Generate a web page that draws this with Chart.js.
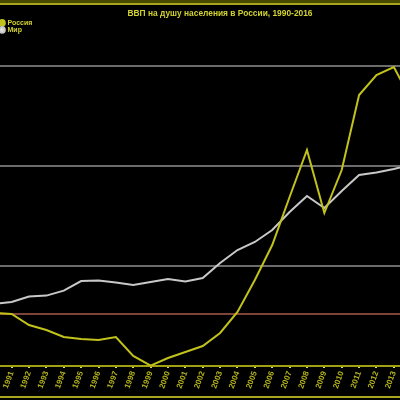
<!DOCTYPE html>
<html>
<head>
<meta charset="utf-8">
<script src="https://cdn.jsdelivr.net/npm/chart.js@4/dist/chart.umd.min.js"></script>
<style>
    body { margin: 0; background: #000; }
    #wrap { width: 400px; height: 400px; }
</style>
</head>
<body>
<div id="wrap"><canvas id="gdpChart" width="400" height="400"></canvas></div>
<script>
const years = [1990, 1991, 1992, 1993, 1994, 1995, 1996, 1997, 1998, 1999,
               2000, 2001, 2002, 2003, 2004, 2005, 2006, 2007, 2008, 2009,
               2010, 2011, 2012, 2013, 2014, 2015, 2016];
const russia = [2650, 2600, 2050, 1800, 1450, 1350, 1300, 1450, 500, 20,
                400, 700, 1000, 1650, 2700, 4300, 6050, 8450, 10800, 7650,
                9800, 13550, 14550, 14950, 13300, 8150, 7550];
const world = [3100, 3200, 3470, 3520, 3770, 4250, 4270, 4170, 4050, 4200,
               4350, 4220, 4400, 5150, 5800, 6200, 6800, 7700, 8500, 7900,
               8750, 9550, 9680, 9850, 10050, 9300, 9400];
const russia1990Level = 2600;
const gridValues = [5000, 10000, 15000];
const seriesNames = ['Россия', 'Мир'];
const titleText = 'ВВП на душу населения в России, 1990-2016';

const yellow = '#c2c21c';
const titleYellow = '#d2d232';

function toPoints(values) {
    return years.map((y, i) => ({ x: y, y: values[i] }));
}

// black background, olive frame bands and the title
const framePlugin = {
    id: 'frame',
    beforeDraw(chart) {
        const ctx = chart.ctx;
        ctx.save();
        ctx.fillStyle = '#000';
        ctx.fillRect(0, 0, chart.width, chart.height);
        ctx.fillStyle = '#4a4a00';
        ctx.fillRect(0, 0, chart.width, 3);
        ctx.fillStyle = '#a6a620';
        ctx.fillRect(0, 3, chart.width, 2);
        ctx.fillRect(0, 396, chart.width, 2);
        ctx.restore();
    },
    afterDraw(chart) {
        const ctx = chart.ctx;
        ctx.save();
        ctx.fillStyle = titleYellow;
        ctx.font = 'bold 8.4px "Liberation Sans", Arial, sans-serif';
        ctx.textAlign = 'center';
        ctx.textBaseline = 'middle';
        ctx.fillText(titleText, 220, 14);
        ctx.restore();
    }
};

const ctx = document.getElementById('gdpChart').getContext('2d');
new Chart(ctx, {
    type: 'line',
    data: {
        datasets: [
            {
                label: seriesNames[0],
                data: toPoints(russia),
                borderColor: yellow,
                backgroundColor: yellow,
                borderWidth: 2,
                pointRadius: 0,
                tension: 0
            },
            {
                label: seriesNames[1],
                data: toPoints(world),
                borderColor: '#c8c8c8',
                backgroundColor: '#e0e0e0',
                borderWidth: 2,
                pointRadius: 0,
                tension: 0
            },
            {
                label: 'level1990',
                data: [{ x: years[0], y: russia1990Level }, { x: years[years.length - 1], y: russia1990Level }],
                borderColor: '#7e4438',
                borderWidth: 2,
                pointRadius: 0
            }
        ]
    },
    options: {
        responsive: false,
        animation: false,
        layout: { padding: { top: 20, left: 0, right: 0, bottom: 0 } },
        plugins: {
            title: { display: false },
            tooltip: { enabled: false },
            legend: {
                position: 'chartArea',
                align: 'start',
                // empty legend title only pushes the items below the chart title
                title: { display: true, text: ' ', font: { size: 2 }, padding: { top: 17, bottom: 0 } },
                labels: {
                    filter: item => item.datasetIndex < 2,
                    usePointStyle: true,
                    pointStyle: 'circle',
                    boxWidth: 4,
                    boxHeight: 4,
                    padding: 0,
                    color: titleYellow,
                    font: { family: '"Liberation Sans", Arial, sans-serif', size: 7, weight: 'bold' }
                }
            }
        },
        scales: {
            x: {
                type: 'linear',
                min: 1990.33,
                max: 2013.355,
                afterFit(scale) {
                    scale.height = 34;
                    scale.paddingLeft = 0;
                    scale.paddingRight = 0;
                },
                border: { display: true, color: '#a0a010', width: 2 },
                grid: { drawOnChartArea: false, color: '#dede50', lineWidth: 2, tickLength: 2 },
                ticks: {
                    stepSize: 1,
                    includeBounds: false,
                    autoSkip: false,
                    minRotation: 70,
                    maxRotation: 70,
                    padding: 2,
                    color: '#b4b41c',
                    font: { family: '"Liberation Sans", Arial, sans-serif', size: 8, weight: 'bold' },
                    callback: value => String(value)
                }
            },
            y: {
                min: 0,
                max: 17300,
                afterFit(scale) {
                    scale.width = 0;
                },
                afterBuildTicks(scale) {
                    scale.ticks = gridValues.map(v => ({ value: v }));
                },
                border: { display: false },
                grid: { drawTicks: false, lineWidth: 2, color: '#6c6c6c' },
                ticks: { display: false }
            }
        }
    },
    plugins: [framePlugin]
});
</script>
</body>
</html>
